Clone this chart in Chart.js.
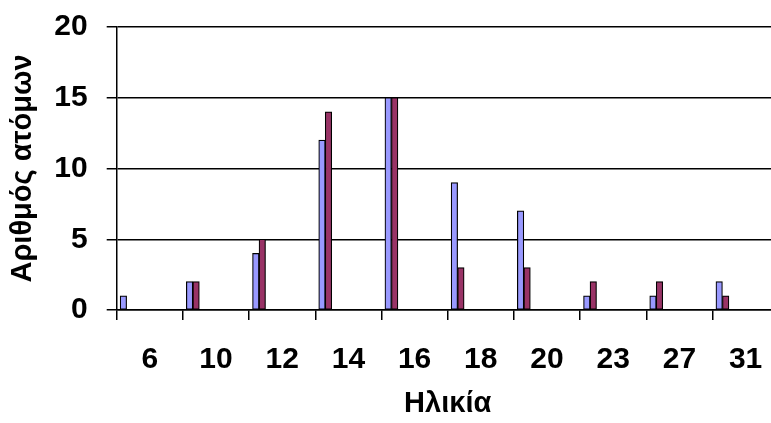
<!DOCTYPE html>
<html>
<head>
<meta charset="utf-8">
<script src="https://cdn.jsdelivr.net/npm/chart.js@4"></script>
<style>
  html, body { margin: 0; padding: 0; background: #fff; overflow: hidden; width: 771px; height: 423px; }
  #clip { position: absolute; left: 0; top: 0; width: 771px; height: 423px; overflow: hidden; }
  #chartEdad { display: block; }
</style>
</head>
<body>
<div id="clip"><canvas id="chartEdad" width="800" height="423"></canvas></div>
<script>
// data
const ages = ['6', '10', '12', '14', '16', '18', '20', '23', '27', '31'];
const seriesA = [1, 2, 4, 12, 15, 9, 7, 1, 1, 2];
const seriesB = [0, 2, 5, 14, 15, 3, 3, 2, 2, 1];
const yTicks = [0, 5, 10, 15, 20];

const FONT = '"Liberation Sans", Arial, sans-serif';
const BAR_SHIFT = 0.15; // bars sit near the left edge of each age band

const pts = (vals) => vals.map((v, i) => ({ x: i + BAR_SHIFT, y: v }));

new Chart(document.getElementById('chartEdad'), {
    type: 'bar',
    data: {
        labels: ages,
        datasets: [
            { label: 'A', data: pts(seriesA), xAxisID: 'xb', backgroundColor: '#9999FF', borderColor: '#000', borderWidth: 1.2, borderSkipped: false, barThickness: 6.5 },
            { label: 'B', data: pts(seriesB), xAxisID: 'xb', backgroundColor: '#993366', borderColor: '#000', borderWidth: 1.2, borderSkipped: false, barThickness: 6.5 }
        ]
    },
    options: {
        responsive: false,
        animation: false,
        layout: { padding: { left: 0, right: 21.3, top: 27, bottom: 0 } },
        plugins: { legend: { display: false }, tooltip: { enabled: false } },
        scales: {
            xb: { type: 'linear', display: false, offset: false, grid: { offset: false }, min: 0, max: ages.length },
            x: {
                type: 'category',
                offset: true,
                grid: { offset: true, drawOnChartArea: false, color: '#000', lineWidth: 1.5, tickLength: 10 },
                border: { display: true, color: '#000', width: 1.5 },
                ticks: { color: '#000', padding: 22, font: { family: FONT, size: 30, weight: 'bold' } },
                title: { display: true, text: 'Ηλικία', color: '#000', padding: { top: 0, bottom: 2 }, font: { family: FONT, size: 29, weight: 'bold' } },
                afterFit: (s) => { s.height = 113; s.paddingLeft = 0; s.paddingRight = 0; }
            },
            y: {
                min: 0,
                max: 20,
                afterBuildTicks: (s) => { s.ticks = yTicks.map(v => ({ value: v })); },
                grid: { color: '#000', lineWidth: 1.5, tickLength: 10 },
                border: { display: true, color: '#000', width: 1.5 },
                ticks: { color: '#000', padding: 19, font: { family: FONT, size: 30, weight: 'bold' } },
                title: { display: true, text: 'Αριθμός ατόμων', color: '#000', padding: { top: 6, bottom: 0 }, font: { family: FONT, size: 29, weight: 'bold' } },
                afterFit: (s) => { s.width = 116.7; s.paddingTop = 0; s.paddingBottom = 0; }
            }
        }
    }
});
</script>
</body>
</html>
